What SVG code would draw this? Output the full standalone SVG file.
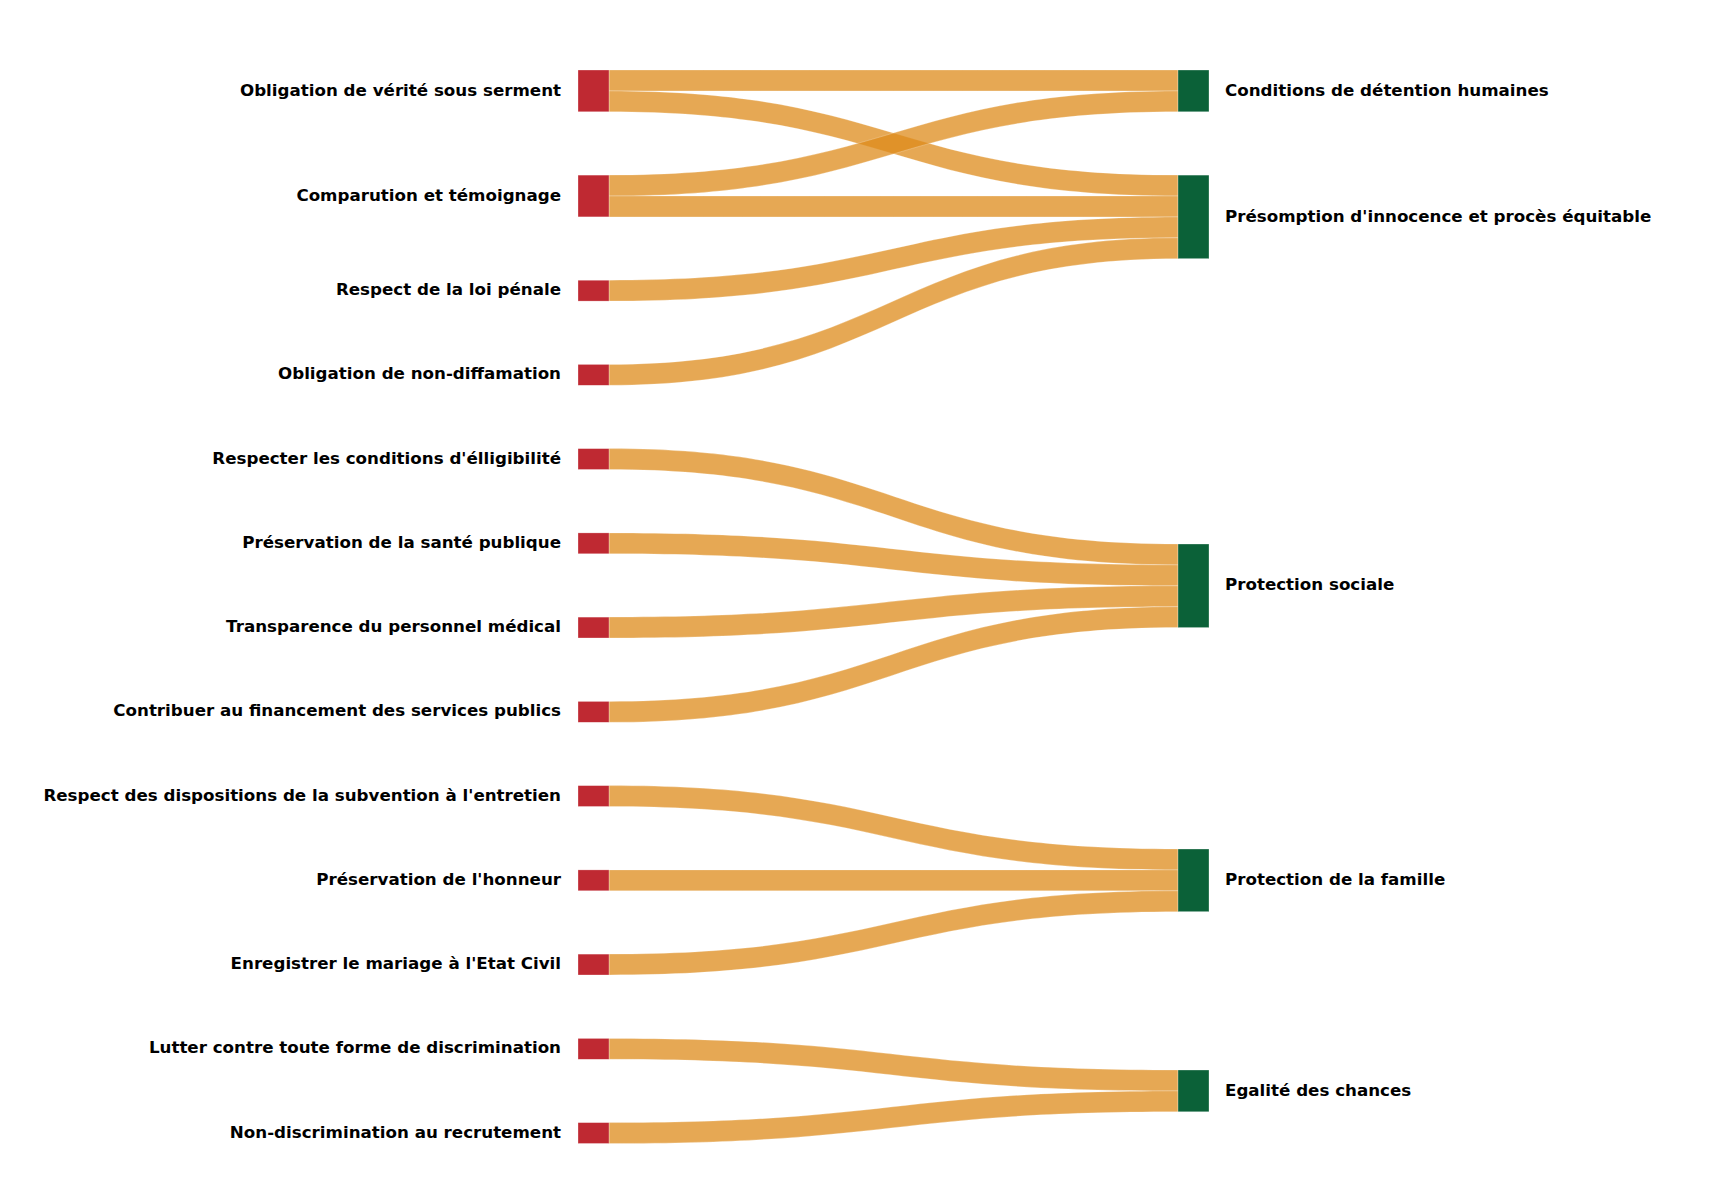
<svg xmlns="http://www.w3.org/2000/svg" width="1726" height="1200" viewBox="0 0 1726 1200">
<style>
.link{fill:#DE8B1B;fill-opacity:0.75;stroke:#ffffff;stroke-opacity:0.5;stroke-width:0.5}
.src{fill:#BF2932;stroke:#ffffff;stroke-opacity:0.6;stroke-width:0.5}
.tgt{fill:#0B6138;stroke:#ffffff;stroke-opacity:0.6;stroke-width:0.5}
text{font-family:"DejaVu Sans","Verdana",sans-serif;font-weight:bold;font-size:16.7px;fill:#000}
.l{text-anchor:end}
.r{text-anchor:start}
</style>
<rect width="1726" height="1200" fill="#ffffff"/>
<g id="connectors">
<path class="link" d="M609,70 C893.5,70 893.5,70 1178,70 L1178,90.9 C893.5,90.9 893.5,90.9 609,90.9 Z"/>
<path class="link" d="M609,90.9 C893.5,90.9 893.5,175.1 1178,175.1 L1178,196 C893.5,196 893.5,111.8 609,111.8 Z"/>
<path class="link" d="M609,175.1 C893.5,175.1 893.5,90.9 1178,90.9 L1178,111.8 C893.5,111.8 893.5,196 609,196 Z"/>
<path class="link" d="M609,196 C893.5,196 893.5,196 1178,196 L1178,216.9 C893.5,216.9 893.5,216.9 609,216.9 Z"/>
<path class="link" d="M609,280.2 C893.5,280.2 893.5,216.9 1178,216.9 L1178,237.8 C893.5,237.8 893.5,301.1 609,301.1 Z"/>
<path class="link" d="M609,364.4 C893.5,364.4 893.5,237.8 1178,237.8 L1178,258.7 C893.5,258.7 893.5,385.3 609,385.3 Z"/>
<path class="link" d="M609,448.6 C893.5,448.6 893.5,544 1178,544 L1178,564.9 C893.5,564.9 893.5,469.5 609,469.5 Z"/>
<path class="link" d="M609,532.9 C893.5,532.9 893.5,564.9 1178,564.9 L1178,585.8 C893.5,585.8 893.5,553.8 609,553.8 Z"/>
<path class="link" d="M609,617.1 C893.5,617.1 893.5,585.8 1178,585.8 L1178,606.7 C893.5,606.7 893.5,638 609,638 Z"/>
<path class="link" d="M609,701.4 C893.5,701.4 893.5,606.7 1178,606.7 L1178,627.6 C893.5,627.6 893.5,722.3 609,722.3 Z"/>
<path class="link" d="M609,785.6 C893.5,785.6 893.5,849 1178,849 L1178,869.9 C893.5,869.9 893.5,806.5 609,806.5 Z"/>
<path class="link" d="M609,869.9 C893.5,869.9 893.5,869.9 1178,869.9 L1178,890.8 C893.5,890.8 893.5,890.8 609,890.8 Z"/>
<path class="link" d="M609,954.1 C893.5,954.1 893.5,890.8 1178,890.8 L1178,911.7 C893.5,911.7 893.5,975 609,975 Z"/>
<path class="link" d="M609,1038.4 C893.5,1038.4 893.5,1070 1178,1070 L1178,1090.9 C893.5,1090.9 893.5,1059.3 609,1059.3 Z"/>
<path class="link" d="M609,1122.6 C893.5,1122.6 893.5,1090.9 1178,1090.9 L1178,1111.8 C893.5,1111.8 893.5,1143.5 609,1143.5 Z"/>
</g>
<g id="n0"><rect class="src" x="578" y="70" width="31" height="41.8"/><text class="l" x="561" y="95.5">Obligation de vérité sous serment</text></g>
<g id="n1"><rect class="src" x="578" y="175.1" width="31" height="41.8"/><text class="l" x="561" y="200.6">Comparution et témoignage</text></g>
<g id="n2"><rect class="src" x="578" y="280.2" width="31" height="20.9"/><text class="l" x="561" y="295.2">Respect de la loi pénale</text></g>
<g id="n3"><rect class="src" x="578" y="364.4" width="31" height="20.9"/><text class="l" x="561" y="379.4">Obligation de non-diffamation</text></g>
<g id="n4"><rect class="src" x="578" y="448.6" width="31" height="20.9"/><text class="l" x="561" y="463.6">Respecter les conditions d'élligibilité</text></g>
<g id="n5"><rect class="src" x="578" y="532.9" width="31" height="20.9"/><text class="l" x="561" y="547.9">Préservation de la santé publique</text></g>
<g id="n6"><rect class="src" x="578" y="617.1" width="31" height="20.9"/><text class="l" x="561" y="632.1">Transparence du personnel médical</text></g>
<g id="n7"><rect class="src" x="578" y="701.4" width="31" height="20.9"/><text class="l" x="561" y="716.4">Contribuer au financement des services publics</text></g>
<g id="n8"><rect class="src" x="578" y="785.6" width="31" height="20.9"/><text class="l" x="561" y="800.6">Respect des dispositions de la subvention à l'entretien</text></g>
<g id="n9"><rect class="src" x="578" y="869.9" width="31" height="20.9"/><text class="l" x="561" y="884.9">Préservation de l'honneur</text></g>
<g id="n10"><rect class="src" x="578" y="954.1" width="31" height="20.9"/><text class="l" x="561" y="969.1">Enregistrer le mariage à l'Etat Civil</text></g>
<g id="n11"><rect class="src" x="578" y="1038.4" width="31" height="20.9"/><text class="l" x="561" y="1053.4">Lutter contre toute forme de discrimination</text></g>
<g id="n12"><rect class="src" x="578" y="1122.6" width="31" height="20.9"/><text class="l" x="561" y="1137.6">Non-discrimination au recrutement</text></g>
<g id="t0"><rect class="tgt" x="1178" y="70" width="31" height="41.8"/><text class="r" x="1225" y="95.5">Conditions de détention humaines</text></g>
<g id="t1"><rect class="tgt" x="1178" y="175.1" width="31" height="83.6"/><text class="r" x="1225" y="221.5">Présomption d'innocence et procès équitable</text></g>
<g id="t2"><rect class="tgt" x="1178" y="544" width="31" height="83.6"/><text class="r" x="1225" y="590.4">Protection sociale</text></g>
<g id="t3"><rect class="tgt" x="1178" y="849" width="31" height="62.7"/><text class="r" x="1225" y="884.9">Protection de la famille</text></g>
<g id="t4"><rect class="tgt" x="1178" y="1070" width="31" height="41.8"/><text class="r" x="1225" y="1095.5">Egalité des chances</text></g>
</svg>
